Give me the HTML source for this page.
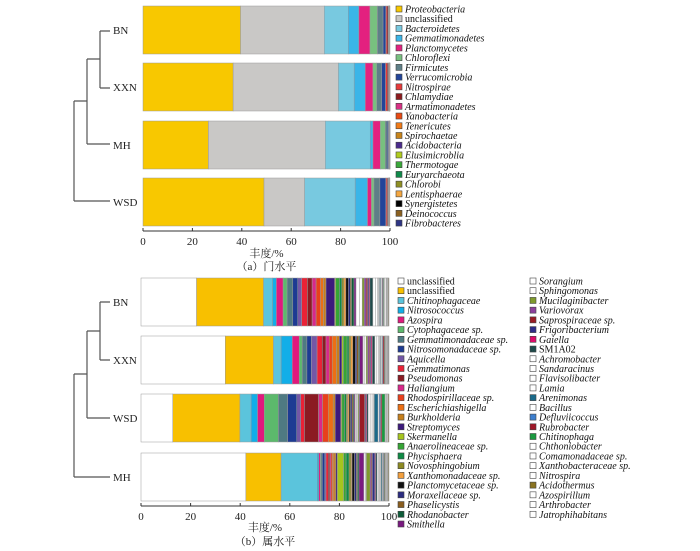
<!DOCTYPE html>
<html><head><meta charset="utf-8">
<style>
body{margin:0;background:#fff;}
svg{display:block;font-family:"Liberation Serif","Noto Serif CJK SC",serif;}
.it{font-style:italic;}
</style></head>
<body>
<svg id="chart" width="700" height="551" viewBox="0 0 700 551" xmlns="http://www.w3.org/2000/svg">
<g id="dendroA" stroke="#555" stroke-width="1.2" fill="none">
<path d="M100,31 V88 M100,31 H110 M100,88 H110 M87,59 V144 M87,59 H100 M87,144 H110 M74,101 V201 M74,101 H87 M74,201 H110"/>
</g>
<g id="dendroB" stroke="#555" stroke-width="1.2" fill="none">
<path d="M100,302 V360 M100,302 H110 M100,360 H110 M87,331 V418 M87,331 H100 M87,418 H110 M74,374 V477 M74,374 H87 M74,477 H110"/>
</g>
<g id="topBars"></g>
<g id="botBars"></g>
<g id="axes"></g>
<g id="legends"></g>
</svg>
<script>
const NS="http://www.w3.org/2000/svg";
const phylumSamples=["BN","XXN","MH","WSD"];
const phylumNames=["Proteobacteria","unclassified","Bacteroidetes","Gemmatimonadetes","Planctomycetes","Chloroflexi","Firmicutes","Verrucomicrobia","Nitrospirae","Chlamydiae","Armatimonadetes","Yanobacteria","Tenericutes","Spirochaetae","Acidobacteria","Elusimicroblia","Thermotogae","Euryarchaeota","Chlorobi","Lentisphaerae","Synergistetes","Deinococcus","Fibrobacteres"];
const phylumColors=["#f8c800","#c9c8c6","#78c9e0","#3ab5e8","#e3217f","#78c07f","#5e7f87","#22449a","#e63a3a","#8c1a1e","#d93185","#e84a14","#f07a18","#c8841a","#4a2a8c","#b0cc1e","#3aa83a","#0f8a4a","#8f8f22","#f4a640","#000000","#8a6020","#2e3585"];
const phylumBN=[39.5,33.9,9.7,4.3,4.5,3.0,2.3,1.1,0.5,0.5,0.2,0.1,0.1,0.05,0.05,0.02,0.02,0.02,0.02,0.02,0.02,0.02,0.02];
const phylumXXN=[36.5,42.6,6.4,4.5,3.1,1.5,2.0,1.6,0.7,0.5,0.2,0.1,0.1,0.05,0.05,0.02,0.02,0.02,0.02,0.02,0.02,0.02,0.02];
const phylumMH=[26.5,47.3,18.2,1.1,3.0,2.0,0.8,0.5,0.2,0.2,0.1,0.05,0.02,0.02,0.02,0.02,0.02,0.02,0.02,0.02,0.02,0.02,0.02];
const phylumWSD=[49.0,16.4,20.5,5.0,1.6,1.0,2.4,2.4,0.5,0.4,0.2,0.1,0.1,0.1,0.05,0.05,0.02,0.02,0.02,0.02,0.02,0.02,0.02];
const genusSamples=["BN","XXN","WSD","MH"];
const genusNames1=["unclassified","unclassified","Chitinophagaceae","Nitrosococcus","Azospira","Cytophagaceae sp.","Gemmatimonadaceae sp.","Nitrosomonadaceae sp.","Aquicella","Gemmatimonas","Pseudomonas","Haliangium","Rhodospirillaceae sp.","Escherichiashigella","Burkholderia","Streptomyces","Skermanella","Anaerolineaceae sp.","Phycisphaera","Novosphingobium","Xanthomonadaceae sp.","Planctomycetaceae sp.","Moraxellaceae sp.","Phaselicystis","Rhodanobacter","Smithella"];
const genusNames2=["Sorangium","Sphingomonas","Mucilaginibacter","Variovorax","Saprospiraceae sp.","Frigoribacterium","Gaiella","SM1A02","Achromobacter","Sandaracinus","Flavisolibacter","Lamia","Arenimonas","Bacillus","Defluviicoccus","Rubrobacter","Chitinophaga","Chthoniobacter","Comamonadaceae sp.","Xanthobacteraceae sp.","Nitrospira","Acidothermus","Azospirillum","Arthrobacter","Jatrophihabitans"];
const genusColors1=["#ffffff","#f8c000","#5bc4dc","#12aee8","#e0197d","#5cb96c","#4f7a82","#1d3b93","#7357a6","#ea2236","#8b1b22","#d9288a","#e8401c","#ec6f14","#c67f1c","#3c1a7c","#a5c51d","#36a535","#0e8b44","#8c8a22","#f29f3d","#111111","#2b2c80","#8a5d1e","#0e5c39","#7a1a80"];
const genusColors2=["#ffffff","#ffffff","#7e9a2c","#8b3f9c","#9a1b24","#2e2d88","#dd0c6a","#1f4a4a","#ffffff","#ffffff","#ffffff","#ffffff","#1a6a8a","#ffffff","#3d7fcf","#a01828","#1a9a40","#ffffff","#ffffff","#ffffff","#ffffff","#8a7320","#ffffff","#ffffff","#ffffff"];
const genusBN=[22.4,27.0,3.6,1.6,2.7,1.6,2.3,2.0,1.6,2.3,1.9,1.6,1.8,1.2,1.0,3.5,0.4,1.5,1.0,0.8,0.8,1.0,0.8,0.5,1.0,0.8,1.5,1.0,0.8,0.8,0.6,0.5,0.4,1.2,1.0,0.8,0.5,0.4,0.4,0.5,0.3,0.3,0.3,0.4,0.5,0.3,0.3,0.3,0.3,0.2,0.2];
const genusXXN=[34.0,19.4,3.1,4.5,2.8,1.2,1.9,1.8,2.3,2.1,1.5,1.3,1.2,1.7,1.2,1.0,0.6,1.5,0.8,0.7,0.8,1.0,0.6,0.7,0.5,1.3,0.5,0.8,0.6,0.6,0.4,0.4,0.5,1.0,0.8,0.6,0.5,0.4,0.3,0.4,0.3,0.6,0.3,0.3,0.3,0.3,0.2,0.2,0.2,0.2,0.3];
const genusWSD=[12.8,27.1,4.5,2.6,2.7,5.7,3.7,3.7,1.6,1.5,5.7,1.6,2.3,2.0,0.8,2.3,0.4,1.0,0.8,0.5,0.6,0.6,0.6,0.5,0.4,0.4,0.5,0.5,0.4,0.4,2.0,0.4,0.4,0.6,0.8,0.8,0.5,0.4,1.5,0.5,0.5,0.5,1.3,0.4,0.3,0.3,0.3,0.3,0.2,0.2,0.2];
const genusMH=[42.3,14.2,14.6,0.6,0.6,0.3,0.5,1.0,0.5,0.9,0.6,0.5,0.6,0.6,0.8,0.6,2.5,1.0,1.2,0.8,0.4,1.0,0.8,0.4,0.6,2.0,0.6,0.4,1.5,0.5,0.4,1.0,0.3,0.6,0.5,0.5,0.4,0.3,0.4,0.3,0.3,0.3,0.3,0.3,0.3,0.3,0.2,0.3,0.2,0.2,0.2];
const ticks=[0,20,40,60,80,100];

function el(tag,attrs,parent){const e=document.createElementNS(NS,tag);for(const k in attrs)e.setAttribute(k,attrs[k]);parent.appendChild(e);return e;}
const xA=v=>143+v*2.47;
const xB=v=>141+v*2.48;

function drawBars(g,samples,data,colors,xf,tops,h,labelPrefix){
  samples.forEach((s,i)=>{
    let cum=0;
    data[i].forEach((v,j)=>{
      const x0=xf(Math.min(cum,100)),x1=xf(Math.min(cum+v,100));cum+=v;
      if(x1<=x0)return;
      const r=el('rect',{x:x0,y:tops[i],width:x1-x0,height:h,fill:colors[j],stroke:'#9a9a9a','stroke-width':0.5},g);
      
      
    });
    const t=el('text',{x:113,y:tops[i]+h/2+4,'font-size':11,fill:'#222'},document.getElementById('chart'));
    t.textContent=s;
    
    
  });
}
drawBars(document.getElementById('topBars'),phylumSamples,[phylumBN,phylumXXN,phylumMH,phylumWSD],phylumColors,xA,[6,63,121,178],48,'phylum');
drawBars(document.getElementById('botBars'),genusSamples,[genusBN,genusXXN,genusWSD,genusMH],genusColors1.concat(genusColors2),xB,[278,336,394,453],48,'genus');

function drawAxis(xf,y,prefix,titleY,capY,cap){
  const g=document.getElementById('axes');
  const l=el('line',{x1:xf(0),x2:xf(100),y1:y,y2:y,stroke:'#333','stroke-width':1},g);
  
  
  ticks.forEach(t=>{
    el('line',{x1:xf(t),x2:xf(t),y1:y-3,y2:y,stroke:'#333','stroke-width':1},g);
    const tx=el('text',{x:xf(t),y:y+14,'font-size':11,'text-anchor':'middle',fill:'#222'},g);
    tx.textContent=t;
    
    
  });
  const a=el('text',{x:xf(50),y:titleY,'font-size':11,'text-anchor':'middle',fill:'#222'},g);
  a.textContent='丰度/%';
  
  
  const c=el('text',{x:xf(50),y:capY,'font-size':11,'text-anchor':'middle',fill:'#222'},g);
  c.textContent=cap;
  
  
}
drawAxis(xA,231,'phylum',257,270,'（a）门水平');
drawAxis(xB,506,'genus',531,545,'（b）属水平');

function drawLegend(names,colors,sx,tx,y0,step,prefix){
  const g=document.getElementById('legends');
  names.forEach((n,i)=>{
    const y=y0+i*step;
    const r=el('rect',{x:sx,y:y-3,width:6,height:6,fill:colors[i],stroke:'#444','stroke-width':0.6},g);
    
    
    const t=el('text',{x:tx,y:y+3.5,'font-size':10,fill:'#111'},g);
    if(n!=='unclassified'&&n!=='SM1A02')t.setAttribute('class','it');
    t.textContent=n;
    
    
  });
}
drawLegend(phylumNames,phylumColors,396,405,9,9.73,'phylum');
drawLegend(genusNames1,genusColors1,398,407,281,9.72,'genus');
drawLegend(genusNames2,genusColors2,530,539,281,9.72,'genus');
</script>
</body></html>
